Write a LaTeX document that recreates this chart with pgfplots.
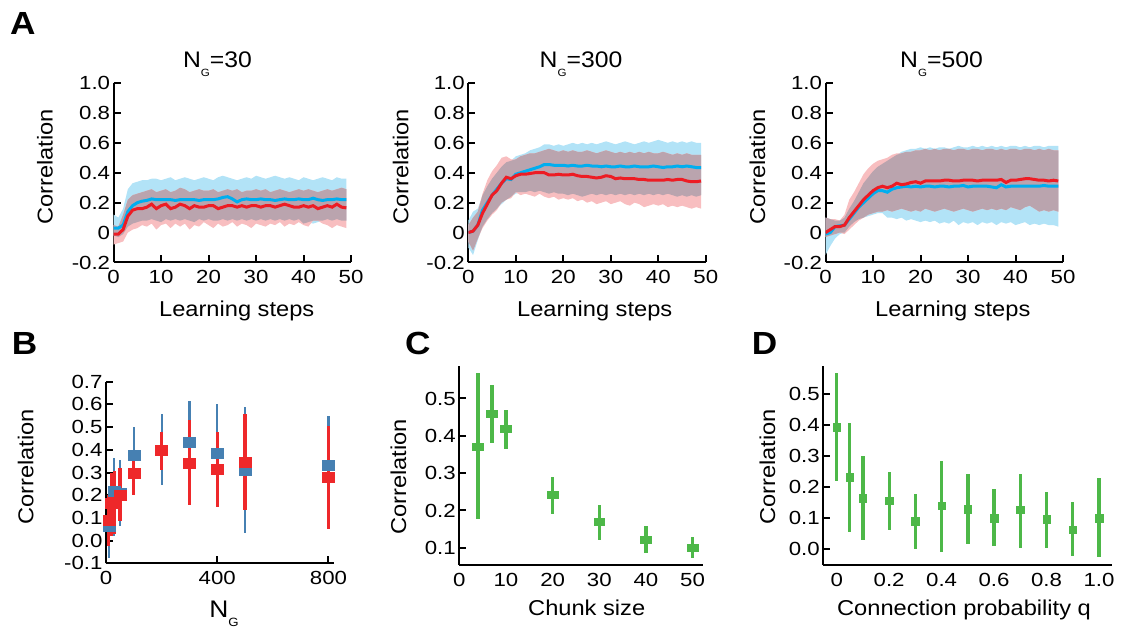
\documentclass[border=0pt]{standalone}
\usepackage{fontspec}
\setmainfont{Liberation Sans}
\newfontfamily\lab{Liberation Sans}[FakeStretch=1.1]
\newfontfamily\tck{Liberation Sans}[FakeStretch=1.17]
\usepackage{pgfplots}
\usepackage{pgfplotstable}
\pgfplotsset{compat=1.18}
\usepgfplotslibrary{fillbetween}

\definecolor{cline}{RGB}{0,174,239}
\definecolor{rline}{RGB}{237,28,36}
\definecolor{cband}{RGB}{178,227,247}
\definecolor{rband}{RGB}{248,190,192}
\definecolor{mband}{RGB}{186,164,174}
\definecolor{bblue}{RGB}{70,128,178}
\definecolor{bred}{RGB}{238,40,42}
\definecolor{cgreen}{RGB}{77,184,72}

% learning curves: step, blue mean/low/high, red mean/low/high
\pgfplotstableread{
s bm blo bhi rm rlo rhi
0 0.03 -0.02 0.12 -0.01 -0.08 0.05
1 0.03 -0.03 0.10 -0.01 -0.07 0.04
2 0.05 -0.01 0.16 0.02 -0.06 0.12
3 0.14 0.04 0.29 0.11 0.00 0.22
4 0.18 0.06 0.33 0.15 0.02 0.25
5 0.20 0.07 0.34 0.16 0.03 0.26
6 0.21 0.08 0.35 0.16 0.05 0.27
7 0.215 0.08 0.35 0.17 0.04 0.28
8 0.225 0.09 0.36 0.19 0.06 0.29
9 0.22 0.08 0.36 0.16 0.02 0.27
10 0.22 0.07 0.35 0.18 0.05 0.28
11 0.22 0.09 0.36 0.19 0.06 0.29
12 0.22 0.08 0.37 0.16 0.03 0.27
13 0.215 0.09 0.35 0.17 0.06 0.28
14 0.22 0.08 0.36 0.19 0.04 0.30
15 0.22 0.09 0.37 0.18 0.06 0.29
16 0.22 0.08 0.36 0.16 0.02 0.27
17 0.22 0.07 0.35 0.18 0.05 0.28
18 0.215 0.09 0.36 0.17 0.04 0.29
19 0.22 0.08 0.37 0.17 0.07 0.28
20 0.22 0.09 0.36 0.18 0.05 0.28
21 0.22 0.08 0.35 0.18 0.03 0.29
22 0.225 0.08 0.37 0.16 0.06 0.27
23 0.235 0.09 0.38 0.17 0.04 0.28
24 0.24 0.08 0.37 0.18 0.05 0.29
25 0.225 0.09 0.36 0.18 0.07 0.28
26 0.205 0.08 0.35 0.17 0.04 0.29
27 0.22 0.09 0.36 0.18 0.06 0.27
28 0.225 0.08 0.37 0.17 0.05 0.28
29 0.22 0.09 0.36 0.18 0.03 0.28
30 0.22 0.08 0.38 0.18 0.06 0.29
31 0.225 0.09 0.37 0.17 0.05 0.28
32 0.22 0.08 0.36 0.18 0.04 0.29
33 0.22 0.09 0.37 0.18 0.06 0.27
34 0.215 0.08 0.38 0.17 0.05 0.28
35 0.22 0.09 0.37 0.18 0.07 0.29
36 0.225 0.08 0.36 0.19 0.04 0.28
37 0.22 0.09 0.37 0.18 0.06 0.27
38 0.22 0.08 0.36 0.17 0.05 0.28
39 0.225 0.09 0.35 0.17 0.07 0.29
40 0.22 0.06 0.37 0.18 0.05 0.28
41 0.22 0.07 0.36 0.17 0.04 0.29
42 0.23 0.06 0.35 0.18 0.08 0.28
43 0.22 0.07 0.36 0.16 0.08 0.27
44 0.215 0.08 0.37 0.17 0.06 0.28
45 0.22 0.09 0.36 0.18 0.05 0.29
46 0.22 0.08 0.35 0.17 0.03 0.28
47 0.225 0.09 0.37 0.19 0.05 0.29
48 0.22 0.08 0.36 0.17 0.04 0.30
49 0.22 0.08 0.36 0.165 0.03 0.29
}\dA

\pgfplotstableread{
s bm blo bhi rm rlo rhi
0 0.00 -0.10 0.08 0.00 -0.06 0.05
1 0.01 -0.15 0.14 0.01 -0.12 0.10
2 0.05 -0.05 0.16 0.05 -0.04 0.14
3 0.15 0.04 0.25 0.13 0.03 0.26
4 0.20 0.09 0.31 0.19 0.08 0.35
5 0.25 0.13 0.36 0.25 0.12 0.41
6 0.29 0.16 0.40 0.28 0.15 0.45
7 0.33 0.19 0.44 0.33 0.20 0.50
8 0.36 0.22 0.47 0.37 0.22 0.51
9 0.355 0.24 0.48 0.36 0.23 0.49
10 0.39 0.26 0.51 0.38 0.27 0.49
11 0.40 0.27 0.52 0.39 0.25 0.51
12 0.41 0.27 0.53 0.39 0.26 0.52
13 0.42 0.28 0.55 0.395 0.25 0.53
14 0.43 0.27 0.56 0.40 0.24 0.53
15 0.44 0.28 0.57 0.40 0.26 0.54
16 0.455 0.27 0.59 0.40 0.24 0.55
17 0.455 0.26 0.59 0.385 0.23 0.56
18 0.45 0.27 0.58 0.385 0.24 0.55
19 0.45 0.26 0.59 0.39 0.22 0.54
20 0.45 0.26 0.58 0.385 0.23 0.55
21 0.445 0.25 0.59 0.385 0.22 0.54
22 0.45 0.26 0.60 0.39 0.23 0.55
23 0.445 0.25 0.59 0.38 0.21 0.54
24 0.445 0.24 0.60 0.375 0.22 0.54
25 0.45 0.25 0.59 0.375 0.20 0.55
26 0.445 0.26 0.60 0.37 0.21 0.54
27 0.445 0.25 0.59 0.365 0.19 0.53
28 0.44 0.26 0.60 0.37 0.20 0.54
29 0.445 0.25 0.61 0.38 0.21 0.55
30 0.44 0.26 0.60 0.375 0.19 0.54
31 0.44 0.25 0.59 0.36 0.20 0.53
32 0.445 0.26 0.60 0.365 0.21 0.54
33 0.44 0.25 0.61 0.36 0.19 0.53
34 0.44 0.26 0.60 0.36 0.18 0.54
35 0.445 0.25 0.59 0.36 0.20 0.53
36 0.44 0.26 0.60 0.355 0.19 0.54
37 0.44 0.25 0.61 0.355 0.17 0.53
38 0.44 0.26 0.60 0.35 0.18 0.54
39 0.445 0.25 0.61 0.35 0.19 0.53
40 0.44 0.26 0.62 0.35 0.18 0.53
41 0.435 0.25 0.61 0.35 0.19 0.54
42 0.44 0.26 0.60 0.355 0.17 0.53
43 0.44 0.25 0.61 0.35 0.18 0.52
44 0.445 0.24 0.60 0.355 0.17 0.53
45 0.44 0.25 0.61 0.355 0.18 0.52
46 0.445 0.24 0.60 0.345 0.17 0.53
47 0.44 0.25 0.61 0.34 0.16 0.52
48 0.435 0.24 0.60 0.34 0.17 0.52
49 0.435 0.25 0.60 0.345 0.16 0.52
}\dB

\pgfplotstableread{
s bm blo bhi rm rlo rhi
0 -0.01 -0.15 0.10 0.00 -0.03 0.10
1 0.00 -0.09 0.09 0.02 -0.02 0.09
2 0.04 -0.04 0.08 0.04 -0.01 0.09
3 0.045 -0.01 0.08 0.04 0.00 0.08
4 0.05 0.00 0.10 0.05 -0.01 0.12
5 0.09 0.04 0.16 0.10 0.02 0.22
6 0.13 0.07 0.21 0.14 0.05 0.27
7 0.17 0.09 0.27 0.18 0.08 0.33
8 0.20 0.10 0.33 0.22 0.10 0.39
9 0.23 0.11 0.37 0.25 0.12 0.43
10 0.26 0.12 0.41 0.28 0.13 0.46
11 0.28 0.13 0.44 0.30 0.14 0.48
12 0.28 0.13 0.46 0.31 0.14 0.49
13 0.27 0.10 0.48 0.30 0.15 0.50
14 0.29 0.10 0.50 0.31 0.14 0.52
15 0.30 0.09 0.52 0.33 0.15 0.53
16 0.305 0.10 0.54 0.32 0.16 0.53
17 0.31 0.08 0.55 0.325 0.15 0.54
18 0.305 0.09 0.56 0.335 0.14 0.54
19 0.31 0.08 0.56 0.34 0.15 0.55
20 0.305 0.07 0.57 0.33 0.14 0.55
21 0.31 0.08 0.56 0.345 0.16 0.56
22 0.31 0.07 0.57 0.345 0.15 0.55
23 0.305 0.08 0.56 0.345 0.14 0.56
24 0.31 0.06 0.57 0.345 0.15 0.55
25 0.31 0.07 0.57 0.35 0.16 0.56
26 0.305 0.06 0.56 0.35 0.15 0.56
27 0.31 0.08 0.57 0.345 0.14 0.55
28 0.31 0.05 0.58 0.345 0.15 0.56
29 0.315 0.07 0.57 0.35 0.16 0.56
30 0.305 0.06 0.57 0.35 0.15 0.55
31 0.31 0.07 0.58 0.35 0.14 0.56
32 0.31 0.05 0.57 0.345 0.15 0.56
33 0.31 0.07 0.58 0.35 0.16 0.55
34 0.31 0.06 0.57 0.35 0.15 0.56
35 0.305 0.07 0.58 0.35 0.16 0.56
36 0.30 0.05 0.57 0.35 0.15 0.55
37 0.32 0.07 0.58 0.355 0.16 0.56
38 0.305 0.06 0.57 0.335 0.15 0.55
39 0.31 0.07 0.58 0.35 0.17 0.56
40 0.31 0.05 0.58 0.35 0.16 0.56
41 0.31 0.06 0.57 0.355 0.15 0.55
42 0.31 0.07 0.58 0.36 0.17 0.56
43 0.31 0.05 0.57 0.36 0.18 0.56
44 0.31 0.06 0.58 0.355 0.16 0.55
45 0.31 0.05 0.58 0.35 0.14 0.56
46 0.315 0.06 0.57 0.35 0.15 0.55
47 0.31 0.05 0.58 0.345 0.14 0.56
48 0.31 0.05 0.58 0.35 0.15 0.55
49 0.31 0.04 0.58 0.345 0.14 0.55
}\dC

% panel B: N_G, mean, low, high
\pgfplotstableread{
n m lo hi
10 0.065 -0.077 0.20
30 0.218 0.02 0.364
50 0.21 0.063 0.356
100 0.378 0.20 0.50
200 0.40 0.245 0.557
300 0.433 0.20 0.615
400 0.385 0.17 0.60
500 0.31 0.033 0.587
800 0.33 0.11 0.55
}\nBlue
\pgfplotstableread{
n m lo hi
10 0.09 -0.025 0.20
20 0.165 0.02 0.30
30 0.165 0.03 0.305
50 0.202 0.085 0.32
100 0.298 0.20 0.357
200 0.397 0.31 0.48
300 0.34 0.157 0.53
400 0.315 0.149 0.48
500 0.345 0.135 0.556
800 0.281 0.05 0.505
}\nRed

% panel C: chunk size
\pgfplotstableread{
n m lo hi
4 0.372 0.176 0.567
7 0.458 0.381 0.536
10 0.418 0.366 0.469
20 0.241 0.19 0.29
30 0.169 0.122 0.216
40 0.123 0.085 0.159
50 0.101 0.073 0.128
}\chunk

% panel D: connection probability
\pgfplotstableread{
n m lo hi
0 0.392 0.217 0.567
0.05 0.231 0.053 0.405
0.1 0.163 0.028 0.30
0.2 0.154 0.06 0.246
0.3 0.088 0.0 0.175
0.4 0.138 -0.01 0.283
0.5 0.127 0.014 0.24
0.6 0.098 0.007 0.192
0.7 0.125 0.002 0.241
0.8 0.095 0.002 0.184
0.9 0.062 -0.024 0.149
1.0 0.098 -0.028 0.227
}\conn

\pgfplotsset{
  panel/.style={
    scale only axis, anchor=south west,
    axis lines*=left,
    axis line style={line width=2pt, -},
    tick align=inside,
    major tick length=7pt,
    major tick style={line width=2pt, black},
    ticklabel style={font=\tck\fontsize{19}{20}\selectfont},
    xticklabel style={yshift=-4.5pt},
    /pgf/number format/assume math mode=true,
  },
  lpanel/.style={panel,
    width=237.5pt, height=179.5pt,
    xmin=0, xmax=50, ymin=-0.2, ymax=1.0,
    xtick={0,10,20,30,40,50}, xticklabels={0,10,20,30,40,50},
    ytick={-0.2,0,0.2,0.4,0.6,0.8,1}, yticklabels={-0.2,0,0.2,0.4,0.6,0.8,1.0},
  },
  ebar/.style n args={3}{only marks, mark=square*, color=#1,
    mark options={#2},
    error bars/.cd, y dir=both, y explicit, error mark=none,
    error bar style={line width=#3, color=#1}},
}

\begin{document}
\begin{tikzpicture}
\path (0pt,0pt) rectangle (1129pt,627pt);

% ---- A: learning curves ----
\begin{axis}[lpanel, at={(113.6pt,364.5pt)}]
  \addplot[draw=none, name path=bh] table[x=s, y=bhi]{\dA};
  \addplot[draw=none, name path=bl] table[x=s, y=blo]{\dA};
  \addplot[fill=cband, draw=none] fill between[of=bh and bl];
  \addplot[draw=none, name path=rh] table[x=s, y=rhi]{\dA};
  \addplot[draw=none, name path=rl] table[x=s, y=rlo]{\dA};
  \addplot[fill=rband, draw=none] fill between[of=rh and rl];
  \addplot[draw=none, name path=oh] table[x=s, y expr={min(\thisrow{bhi},\thisrow{rhi})}]{\dA};
  \addplot[draw=none, name path=ol] table[x=s, y expr={max(\thisrow{blo},\thisrow{rlo})}]{\dA};
  \addplot[fill=mband, draw=none] fill between[of=oh and ol];
  \addplot[cline, line width=3pt] table[x=s, y=bm]{\dA};
  \addplot[rline, line width=3pt] table[x=s, y=rm]{\dA};
\end{axis}
\begin{axis}[lpanel, at={(468.3pt,364.5pt)}]
  \addplot[draw=none, name path=bh] table[x=s, y=bhi]{\dB};
  \addplot[draw=none, name path=bl] table[x=s, y=blo]{\dB};
  \addplot[fill=cband, draw=none] fill between[of=bh and bl];
  \addplot[draw=none, name path=rh] table[x=s, y=rhi]{\dB};
  \addplot[draw=none, name path=rl] table[x=s, y=rlo]{\dB};
  \addplot[fill=rband, draw=none] fill between[of=rh and rl];
  \addplot[draw=none, name path=oh] table[x=s, y expr={min(\thisrow{bhi},\thisrow{rhi})}]{\dB};
  \addplot[draw=none, name path=ol] table[x=s, y expr={max(\thisrow{blo},\thisrow{rlo})}]{\dB};
  \addplot[fill=mband, draw=none] fill between[of=oh and ol];
  \addplot[cline, line width=3pt] table[x=s, y=bm]{\dB};
  \addplot[rline, line width=3pt] table[x=s, y=rm]{\dB};
\end{axis}
\begin{axis}[lpanel, at={(825.5pt,364.5pt)}]
  \addplot[draw=none, name path=bh] table[x=s, y=bhi]{\dC};
  \addplot[draw=none, name path=bl] table[x=s, y=blo]{\dC};
  \addplot[fill=cband, draw=none] fill between[of=bh and bl];
  \addplot[draw=none, name path=rh] table[x=s, y=rhi]{\dC};
  \addplot[draw=none, name path=rl] table[x=s, y=rlo]{\dC};
  \addplot[fill=rband, draw=none] fill between[of=rh and rl];
  \addplot[draw=none, name path=oh] table[x=s, y expr={min(\thisrow{bhi},\thisrow{rhi})}]{\dC};
  \addplot[draw=none, name path=ol] table[x=s, y expr={max(\thisrow{blo},\thisrow{rlo})}]{\dC};
  \addplot[fill=mband, draw=none] fill between[of=oh and ol];
  \addplot[cline, line width=3pt] table[x=s, y=bm]{\dC};
  \addplot[rline, line width=3pt] table[x=s, y=rm]{\dC};
\end{axis}

% ---- B ----
\begin{axis}[panel, at={(106pt,63.7pt)}, width=228pt, height=181.6pt,
    xmin=0, xmax=820, ymin=-0.1, ymax=0.7,
    xtick={0,400,800}, xticklabels={0,400,800},
    ytick={-0.1,0,0.1,0.2,0.3,0.4,0.5,0.6,0.7},
    yticklabels={-0.1,0.0,0.1,0.2,0.3,0.4,0.5,0.6,0.7}]
  \addplot[ebar={bblue}{mark size=5pt, xscale=1.2}{2.2pt}]
    table[x=n, y=m, y error plus expr=\thisrow{hi}-\thisrow{m},
          y error minus expr=\thisrow{m}-\thisrow{lo}]{\nBlue};
  \addplot[ebar={bred}{mark size=5pt, xscale=1.2}{3.3pt}]
    table[x=n, y=m, y error plus expr=\thisrow{hi}-\thisrow{m},
          y error minus expr=\thisrow{m}-\thisrow{lo}]{\nRed};
\end{axis}

% ---- C ----
\begin{axis}[panel, at={(459.3pt,62pt)}, width=244pt, height=199pt,
    axis line style={line width=1.7pt},
    xmin=0, xmax=52.3, ymin=0.054, ymax=0.587,
    xtick={0,10,20,30,40,50}, xticklabels={0,10,20,30,40,50},
    x tick style={draw=none},
    ytick={0.1,0.2,0.3,0.4,0.5}, yticklabels={0.1,0.2,0.3,0.4,0.5}]
  \addplot[ebar={cgreen}{mark size=3.5pt, xscale=1.55}{3.3pt}]
    table[x=n, y=m, y error plus expr=\thisrow{hi}-\thisrow{m},
          y error minus expr=\thisrow{m}-\thisrow{lo}]{\chunk};
\end{axis}

% ---- D ----
\begin{axis}[panel, at={(823.3pt,62pt)}, width=288.3pt, height=199pt,
    axis line style={line width=1.7pt},
    xmin=-0.051, xmax=1.048, ymin=-0.053, ymax=0.59,
    xtick={0,0.2,0.4,0.6,0.8,1}, xticklabels={0,0.2,0.4,0.6,0.8,1.0},
    x tick style={draw=none},
    ytick={0,0.1,0.2,0.3,0.4,0.5}, yticklabels={0.0,0.1,0.2,0.3,0.4,0.5}]
  \addplot[ebar={cgreen}{mark size=3.7pt}{3.3pt}]
    table[x=n, y=m, y error plus expr=\thisrow{hi}-\thisrow{m},
          y error minus expr=\thisrow{m}-\thisrow{lo}]{\conn};
\end{axis}

% ---- text ----
\newcommand{\labsize}{\lab\fontsize{21.5}{22}\selectfont}
\newcommand{\ttlsize}{\lab\fontsize{22.5}{23}\selectfont}
\newcommand{\sub}[1]{\raisebox{-8.5pt}{\lab\fontsize{10.5}{11}\selectfont #1}}
\foreach \p/\x/\y in {A/10/592, B/11.7/272, C/405/272, D/751.7/272}
  \node[anchor=base west, inner sep=0pt] at (\x pt,\y pt) {\lab\bfseries\fontsize{32}{32}\selectfont \p};

\node[anchor=base, inner sep=0pt] at (217.5pt,559.3pt) {\ttlsize N\sub{G}=30};
\node[anchor=base, inner sep=0pt] at (581pt,559.3pt) {\ttlsize N\sub{G}=300};
\node[anchor=base, inner sep=0pt] at (941.5pt,559.3pt) {\ttlsize N\sub{G}=500};

\foreach \x in {236.7, 594.7, 952.8}
  \node[anchor=base, inner sep=0pt] at (\x pt,310pt) {\labsize Learning steps};

\foreach \x/\y in {52.7/460.3, 408.3/460.3, 765/460.3, 33.3/160.3, 406/150.3, 775/160.3}
  \node[anchor=base, inner sep=0pt, rotate=90] at (\x pt,\y pt) {\labsize Correlation};

\node[anchor=base, inner sep=0pt] at (224pt,9.7pt)
  {\lab\fontsize{24}{25}\selectfont N\raisebox{-9pt}{\lab\fontsize{12}{12}\selectfont G}};
\node[anchor=base, inner sep=0pt] at (586.7pt,12pt) {\labsize Chunk size};
\node[anchor=base, inner sep=0pt] at (964pt,12pt) {\labsize Connection probability q};
\end{tikzpicture}
\end{document}
